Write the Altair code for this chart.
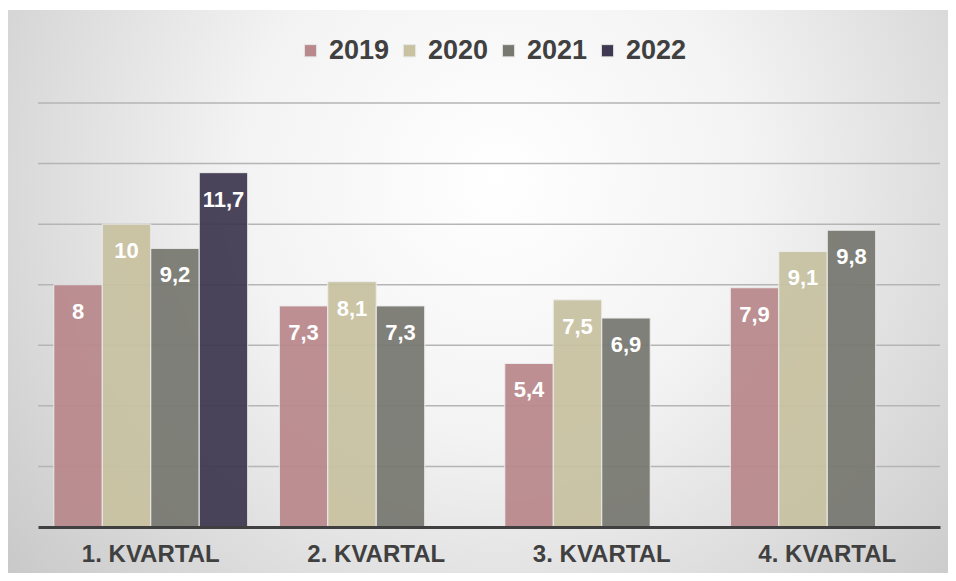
import altair as alt
import pandas as pd

quarters = ["1. KVARTAL", "2. KVARTAL", "3. KVARTAL", "4. KVARTAL"]
years = ["2019", "2020", "2021", "2022"]
v2019 = [8, 7.3, 5.4, 7.9]
v2020 = [10, 8.1, 7.5, 9.1]
v2021 = [9.2, 7.3, 6.9, 9.8]
v2022 = [11.7, None, None, None]
colors = ["#B9888C", "#C8C2A1", "#777870", "#3E3850"]
grid_values = [2, 4, 6, 8, 10, 12, 14]

rows = []
for year, vals in zip(years, [v2019, v2020, v2021, v2022]):
    for q, v in zip(quarters, vals):
        if v is None:
            continue
        lab = ("%g" % v).replace(".", ",")
        rows.append({"quarter": q, "year": year, "value": v, "label": lab})
df = pd.DataFrame(rows)

W, H = 902, 424

bg = alt.Chart(pd.DataFrame({"a": [0]})).mark_rect(
    fill={
        "gradient": "radial",
        "x1": 0.52, "y1": 0.38, "r1": 0.0,
        "x2": 0.52, "y2": 0.38, "r2": 0.78,
        "stops": [
            {"offset": 0.0, "color": "#FFFFFF"},
            {"offset": 0.35, "color": "#F3F3F3"},
            {"offset": 1.0, "color": "#BDBDBD"},
        ],
    }
).encode(
    x=alt.value(-30), x2=alt.value(W + 8),
    y=alt.value(-93), y2=alt.value(H + 46),
)

y_scale = alt.Scale(domain=[0, 14], nice=False)

grid = alt.Chart(pd.DataFrame({"g": grid_values})).mark_rule(
    color="#B5B5B5", strokeWidth=1.5
).encode(
    y=alt.Y("g:Q", scale=y_scale, axis=None),
    x=alt.value(0), x2=alt.value(W),
)

x_enc = alt.X(
    "quarter:N",
    sort=quarters,
    scale=alt.Scale(domain=quarters, paddingInner=0.14, paddingOuter=0.07),
    axis=alt.Axis(
        title=None, labelAngle=0, ticks=False, labelFontSize=24,
        labelFontWeight="bold", labelColor="#404040", labelPadding=15,
        domainColor="#404040", domainWidth=3, labelFont="Liberation Sans",
        zindex=1,
    ),
)
y_enc = alt.Y("value:Q", scale=y_scale, axis=None)
xoff = alt.XOffset("year:N", scale=alt.Scale(domain=years, paddingInner=0, paddingOuter=0))

bars = alt.Chart(df).mark_bar(
    stroke="#EDEDED", strokeWidth=1, opacity=0.93
).encode(
    x=x_enc,
    xOffset=xoff,
    y=y_enc,
    color=alt.Color(
        "year:N",
        scale=alt.Scale(domain=years, range=colors),
        legend=alt.Legend(
            title=None, orient="none", direction="horizontal",
            legendX=259, legendY=-66,
            symbolType="square", symbolSize=150, symbolStrokeColor="#E6E6E6",
            symbolStrokeWidth=1, symbolOpacity=1,
            labelFontSize=27, labelFontWeight="bold", labelColor="#404040",
            labelFont="Liberation Sans", labelOffset=5, columnPadding=6,
        ),
    ),
)

labels = alt.Chart(df).mark_text(
    color="white", fontWeight="bold", fontSize=22, baseline="middle",
    dy=27, font="Liberation Sans",
).encode(
    x=alt.X("quarter:N", sort=quarters),
    xOffset=xoff,
    y=alt.Y("value:Q"),
    text="label:N",
)

chart = alt.layer(bg, grid, bars, labels).properties(
    width=W, height=H,
    padding={"left": 30, "top": 95, "right": 8, "bottom": 46},
    autosize="none",
).configure_view(strokeWidth=0)

chart.save("out.html", embed_options={"renderer": "svg", "actions": False})
